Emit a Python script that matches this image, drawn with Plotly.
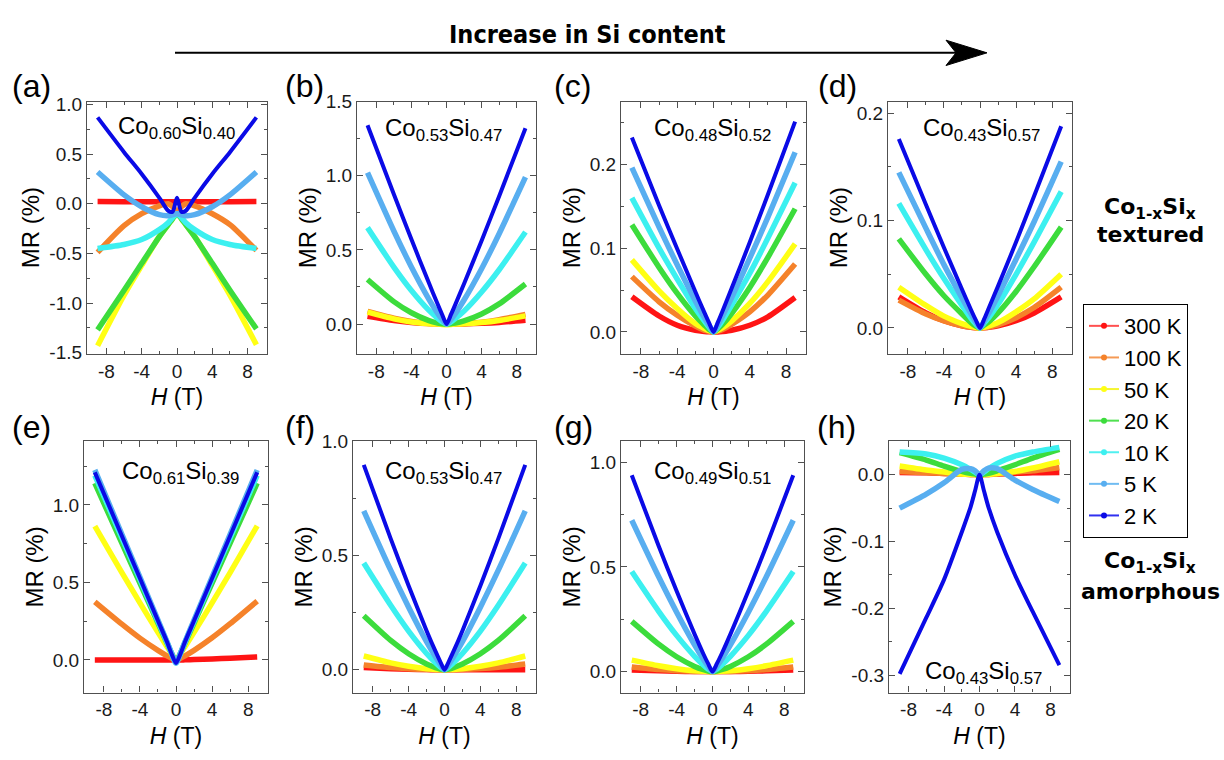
import plotly.graph_objects as go

# ---------------- data ----------------
H = [-9, -6, -4, -2, -1, -0.5, 0, 0.5, 1, 2, 4, 6, 9]
temps = ["300 K", "100 K", "50 K", "20 K", "10 K", "5 K", "2 K"]
colors = ["#FF1414", "#F5822A", "#FFFF14", "#3CDC3C", "#3CF0F0", "#58AEF0", "#0A0AE6"]
legend_colors = ["#FF5050", "#F59A55", "#F5F530", "#50E050", "#50F0F0", "#70BCF2", "#3030F0"]

panel_letters = ["(a)", "(b)", "(c)", "(d)", "(e)", "(f)", "(g)", "(h)"]
compositions = [
    "Co<sub>0.60</sub>Si<sub>0.40</sub>", "Co<sub>0.53</sub>Si<sub>0.47</sub>",
    "Co<sub>0.48</sub>Si<sub>0.52</sub>", "Co<sub>0.43</sub>Si<sub>0.57</sub>",
    "Co<sub>0.61</sub>Si<sub>0.39</sub>", "Co<sub>0.53</sub>Si<sub>0.47</sub>",
    "Co<sub>0.49</sub>Si<sub>0.51</sub>", "Co<sub>0.43</sub>Si<sub>0.57</sub>",
]

MR_a = [
    [0.022, 0.021, 0.02, 0.02, 0.02, 0.02, 0.02, 0.02, 0.02, 0.02, 0.02, 0.021, 0.022],
    [-0.49, -0.22, -0.10, -0.02, 0.0, -0.03, -0.08, -0.03, 0.0, -0.02, -0.10, -0.21, -0.47],
    [-1.43, -0.92, -0.62, -0.33, -0.21, -0.15, -0.10, -0.15, -0.21, -0.33, -0.62, -0.92, -1.42],
    [-1.27, -0.87, -0.60, -0.33, -0.21, -0.15, -0.10, -0.15, -0.21, -0.33, -0.60, -0.87, -1.26],
    [-0.45, -0.41, -0.36, -0.26, -0.19, -0.14, -0.10, -0.14, -0.19, -0.26, -0.36, -0.41, -0.45],
    [0.32, 0.09, -0.03, -0.11, -0.12, -0.11, -0.10, -0.11, -0.12, -0.11, -0.03, 0.09, 0.32],
    [0.87, 0.52, 0.30, 0.06, -0.07, -0.08, 0.06, -0.08, -0.07, 0.06, 0.30, 0.52, 0.87],
]
MR_b = [
    [0.053, 0.024, 0.011, 0.003, 0.001, 0.0, 0.0, 0.0, 0.0, 0.001, 0.005, 0.011, 0.025],
    [0.085, 0.040, 0.018, 0.004, 0.001, 0.0, 0.0, 0.0, 0.001, 0.003, 0.013, 0.030, 0.065],
    [0.080, 0.035, 0.014, 0.002, 0.0, -0.003, -0.005, -0.003, 0.0, 0.002, 0.010, 0.024, 0.055],
    [0.300, 0.151, 0.076, 0.023, 0.007, 0.002, 0.0, 0.002, 0.006, 0.021, 0.068, 0.136, 0.270],
    [0.650, 0.384, 0.226, 0.092, 0.038, 0.015, 0.0, 0.014, 0.036, 0.087, 0.216, 0.366, 0.620],
    [1.020, 0.627, 0.385, 0.167, 0.072, 0.032, 0.0, 0.031, 0.070, 0.162, 0.373, 0.609, 0.990],
    [1.340, 0.875, 0.571, 0.276, 0.133, 0.064, 0.0, 0.063, 0.131, 0.272, 0.562, 0.862, 1.320],
]
MR_c = [
    [0.042, 0.019, 0.008, 0.002, 0.0005, 0.0001, 0.0, 0.0, 0.0005, 0.002, 0.008, 0.018, 0.041],
    [0.066, 0.036, 0.020, 0.007, 0.002, 0.001, 0.0, 0.001, 0.003, 0.009, 0.024, 0.044, 0.081],
    [0.086, 0.049, 0.028, 0.010, 0.004, 0.0015, 0.0, 0.002, 0.005, 0.013, 0.034, 0.060, 0.105],
    [0.128, 0.077, 0.046, 0.019, 0.008, 0.003, 0.0, 0.004, 0.009, 0.022, 0.053, 0.089, 0.147],
    [0.160, 0.100, 0.063, 0.028, 0.013, 0.006, 0.0, 0.006, 0.014, 0.032, 0.070, 0.112, 0.178],
    [0.196, 0.125, 0.080, 0.037, 0.017, 0.008, 0.0, 0.009, 0.019, 0.041, 0.088, 0.137, 0.2145],
    [0.232, 0.151, 0.099, 0.048, 0.023, 0.011, 0.0, 0.012, 0.025, 0.052, 0.107, 0.164, 0.251],
]
MR_d = [
    [0.029, 0.014, 0.0067, 0.0019, 0.0006, 0.0002, 0.0, 0.0002, 0.0006, 0.0019, 0.0067, 0.014, 0.029],
    [0.026, 0.013, 0.0066, 0.002, 0.0006, 0.0002, 0.0, 0.0003, 0.0009, 0.0029, 0.0096, 0.019, 0.038],
    [0.038, 0.021, 0.011, 0.004, 0.0014, 0.0005, 0.0, 0.0007, 0.0019, 0.005, 0.015, 0.027, 0.050],
    [0.083, 0.050, 0.030, 0.013, 0.005, 0.002, 0.0, 0.003, 0.006, 0.014, 0.034, 0.057, 0.094],
    [0.116, 0.073, 0.046, 0.021, 0.009, 0.004, 0.0, 0.005, 0.010, 0.022, 0.050, 0.080, 0.127],
    [0.145, 0.093, 0.059, 0.028, 0.013, 0.006, 0.0, 0.007, 0.014, 0.030, 0.064, 0.099, 0.155],
    [0.176, 0.115, 0.075, 0.036, 0.017, 0.008, 0.0, 0.009, 0.019, 0.039, 0.080, 0.123, 0.188],
]
MR_e = [
    [0.0, 0.0, 0.0, 0.0, 0.0, 0.0, 0.0, 0.0, 0.001, 0.003, 0.007, 0.012, 0.020],
    [0.375, 0.231, 0.141, 0.062, 0.027, 0.012, 0.0, 0.012, 0.027, 0.062, 0.143, 0.234, 0.380],
    [0.864, 0.564, 0.368, 0.178, 0.086, 0.041, 0.0, 0.041, 0.086, 0.178, 0.368, 0.564, 0.865],
    [1.140, 0.753, 0.496, 0.238, 0.109, 0.044, -0.01, 0.044, 0.109, 0.238, 0.496, 0.753, 1.140],
    [1.190, 0.787, 0.520, 0.249, 0.115, 0.045, -0.02, 0.045, 0.115, 0.249, 0.520, 0.787, 1.190],
    [1.226, 0.811, 0.534, 0.257, 0.118, 0.045, -0.02, 0.045, 0.118, 0.257, 0.534, 0.811, 1.225],
    [1.210, 0.800, 0.527, 0.253, 0.117, 0.040, -0.02, 0.040, 0.117, 0.253, 0.527, 0.800, 1.210],
]
MR_f = [
    [0.010, 0.0044, 0.002, 0.0005, 0.0, 0.0, 0.0, 0.0, 0.0, 0.0, 0.0, 0.0, 0.0],
    [0.021, 0.0093, 0.0042, 0.001, 0.0003, 0.0, 0.0, 0.0, 0.0003, 0.0012, 0.005, 0.011, 0.025],
    [0.060, 0.030, 0.015, 0.0046, 0.0014, 0.0004, 0.0, 0.0004, 0.0014, 0.0046, 0.015, 0.030, 0.060],
    [0.236, 0.128, 0.070, 0.025, 0.009, 0.003, 0.0, 0.003, 0.009, 0.025, 0.070, 0.128, 0.236],
    [0.467, 0.282, 0.169, 0.071, 0.030, 0.013, 0.0, 0.013, 0.030, 0.071, 0.169, 0.282, 0.467],
    [0.696, 0.436, 0.274, 0.123, 0.056, 0.025, 0.0, 0.025, 0.056, 0.123, 0.274, 0.436, 0.696],
    [0.897, 0.574, 0.368, 0.171, 0.080, 0.038, 0.0, 0.038, 0.080, 0.171, 0.368, 0.574, 0.897],
]
MR_g = [
    [0.008, 0.0036, 0.0016, 0.0004, 0.0001, 0.0, 0.0, 0.0, 0.0001, 0.0004, 0.0016, 0.0036, 0.008],
    [0.022, 0.0098, 0.0044, 0.0011, 0.0003, 0.0, 0.0, 0.0, 0.0003, 0.0011, 0.0044, 0.0098, 0.022],
    [0.055, 0.028, 0.014, 0.0042, 0.0013, 0.0004, 0.0, 0.0004, 0.0013, 0.0042, 0.014, 0.028, 0.055],
    [0.240, 0.131, 0.071, 0.025, 0.009, 0.003, 0.0, 0.003, 0.009, 0.025, 0.071, 0.131, 0.240],
    [0.478, 0.288, 0.173, 0.073, 0.031, 0.013, 0.0, 0.013, 0.031, 0.073, 0.173, 0.288, 0.478],
    [0.723, 0.453, 0.284, 0.128, 0.058, 0.026, 0.0, 0.026, 0.058, 0.128, 0.284, 0.453, 0.723],
    [0.938, 0.600, 0.385, 0.179, 0.083, 0.039, 0.0, 0.039, 0.083, 0.179, 0.385, 0.600, 0.938],
]
MR_h = [
    [0.0035, 0.003, 0.002, 0.001, 0.0005, 0.0002, 0.0, 0.0002, 0.0005, 0.001, 0.002, 0.003, 0.0035],
    [0.005, 0.003, 0.002, 0.001, 0.0005, 0.0002, 0.0, 0.0002, 0.0005, 0.001, 0.004, 0.006, 0.011],
    [0.013, 0.007, 0.004, 0.001, 0.0005, 0.0002, 0.0, 0.0002, 0.0005, 0.002, 0.005, 0.010, 0.0195],
    [0.033, 0.022, 0.013, 0.005, 0.002, 0.001, 0.0, 0.001, 0.002, 0.006, 0.015, 0.025, 0.038],
    [0.034, 0.031, 0.025, 0.015, 0.008, 0.004, 0.0, 0.004, 0.009, 0.017, 0.028, 0.034, 0.041],
    [-0.050, -0.029, -0.012, 0.008, 0.009, 0.006, 0.0, 0.006, 0.010, 0.009, -0.008, -0.022, -0.040],
    [-0.298, -0.214, -0.157, -0.086, -0.048, -0.024, 0.0, -0.024, -0.048, -0.086, -0.150, -0.205, -0.285],
]
panels = [MR_a, MR_b, MR_c, MR_d, MR_e, MR_f, MR_g, MR_h]

x_tickvals = [-8, -4, 0, 4, 8]
x_ticktext = ["-8", "-4", "0", "4", "8"]
x_minor = [-6, -2, 2, 6]

y_ranges = [[-1.51, 1.03], [-0.2, 1.5], [-0.026, 0.275], [-0.024, 0.211],
            [-0.21, 1.41], [-0.1, 1.0], [-0.1, 1.1], [-0.326, 0.05]]
y_tickvals = [[-1.5, -1.0, -0.5, 0.0, 0.5, 1.0], [0.0, 0.5, 1.0, 1.5], [0.0, 0.1, 0.2], [0.0, 0.1, 0.2],
              [0.0, 0.5, 1.0], [0.0, 0.5, 1.0], [0.0, 0.5, 1.0], [-0.3, -0.2, -0.1, 0.0]]
y_ticktext = [["-1.5", "-1.0", "-0.5", "0.0", "0.5", "1.0"], ["0.0", "0.5", "1.0", "1.5"],
              ["0.0", "0.1", "0.2"], ["0.0", "0.1", "0.2"], ["0.0", "0.5", "1.0"],
              ["0.0", "0.5", "1.0"], ["0.0", "0.5", "1.0"], ["-0.3", "-0.2", "-0.1", "0.0"]]
y_minor = [[-1.25, -0.75, -0.25, 0.25, 0.75], [0.25, 0.75, 1.25], [0.05, 0.15, 0.25], [0.05, 0.15],
           [0.25, 0.75, 1.25], [0.25, 0.75], [0.25, 0.75], [-0.25, -0.15, -0.05]]

# ---------------- layout geometry (pixels) ----------------
W, Hpx = 1224, 760
def fx(p):
    return p / W
def fy(p):
    return 1 - p / Hpx

boxes = [(87, 267, 94, 353), (357, 536, 94, 353), (621, 806, 94, 353), (888, 1072, 94, 353),
         (84, 268, 443, 701), (353, 536, 443, 701), (621, 804, 443, 701), (889, 1070, 443, 701)]
letter_pos = [(10, 78), (283, 78), (552, 78), (816, 78), (10, 428), (283, 428), (552, 428), (815, 428)]
comp_pos = [(176, 121), (443, 123), (712, 123), (981, 123), (180, 475), (443, 475), (712, 475), (983, 680)]

FONT = "Liberation Sans, Arial, sans-serif"
AX_COLOR = "#505050"

fig = go.Figure()
layout = dict(width=W, height=Hpx, margin=dict(l=0, r=0, t=0, b=0), autosize=False,
              paper_bgcolor="white", plot_bgcolor="white",
              font=dict(family=FONT, size=19, color="black"))
annotations = []

for i, data in enumerate(panels):
    k = "" if i == 0 else str(i + 1)
    xa, ya = "x" + k, "y" + k
    for j, series in enumerate(data):
        fig.add_trace(go.Scatter(
            x=H, y=series, mode="lines", xaxis=xa, yaxis=ya, showlegend=False,
            line=dict(color=colors[j], width=4 if j == 6 else 5.5, shape="spline", smoothing=0.7),
            hoverinfo="skip"))
    x0, x1, y0, y1 = boxes[i]
    common = dict(showline=True, linecolor=AX_COLOR, linewidth=1.2, mirror="ticks",
                  ticks="inside", ticklen=6, tickwidth=1.2, tickcolor=AX_COLOR,
                  showgrid=False, zeroline=False,
                  tickfont=dict(size=19, family=FONT, color="#1a1a1a"))
    layout["xaxis" + k] = dict(
        domain=[fx(x0), fx(x1)], anchor=ya, range=[-10.2, 10.2],
        tickmode="array", tickvals=x_tickvals, ticktext=x_ticktext,
        minor=dict(tickmode="array", tickvals=x_minor, ticks="inside", ticklen=3,
                   tickcolor=AX_COLOR, tickwidth=1.2),
        title=dict(text="<i>H</i> (T)", font=dict(size=23, family=FONT), standoff=8),
        **common)
    layout["yaxis" + k] = dict(
        domain=[fy(y1), fy(y0)], anchor=xa, range=y_ranges[i],
        tickmode="array", tickvals=y_tickvals[i], ticktext=y_ticktext[i],
        minor=dict(tickmode="array", tickvals=y_minor[i], ticks="inside", ticklen=3,
                   tickcolor=AX_COLOR, tickwidth=1.2),
        title=dict(text="MR (%)", font=dict(size=24, family=FONT), standoff=2),
        **common)
    lx, ly = letter_pos[i]
    annotations.append(dict(text=panel_letters[i], x=fx(lx), y=fy(ly), xref="paper", yref="paper",
                            xanchor="left", yanchor="middle", showarrow=False,
                            font=dict(size=32, family=FONT, color="black")))
    cx, cy = comp_pos[i]
    annotations.append(dict(text=compositions[i], x=fx(cx), y=fy(cy), xref="paper", yref="paper",
                            xanchor="center", yanchor="middle", showarrow=False,
                            font=dict(size=24, family=FONT, color="black")))

# legend-only traces
for j, t in enumerate(temps):
    fig.add_trace(go.Scatter(
        x=[None], y=[None], mode="lines+markers", name=t, xaxis="x", yaxis="y",
        line=dict(color=legend_colors[j], width=2), marker=dict(color=colors[j], size=6)))

BOLD = "DejaVu Sans, Verdana, sans-serif"
side_texts = [("<b>Co<sub>1-x</sub>Si<sub>x</sub></b>", 1150, 204), ("<b>textured</b>", 1150, 231),
              ("<b>Co<sub>1-x</sub>Si<sub>x</sub></b>", 1150, 567), ("<b>amorphous</b>", 1150, 597)]
for txt, px, py in side_texts:
    annotations.append(dict(text=txt, x=fx(px), y=fy(py), xref="paper", yref="paper",
                            xanchor="center", yanchor="middle", showarrow=False,
                            font=dict(size=22, family=BOLD, color="black")))

annotations.append(dict(text="<b>Increase in Si content</b>", x=fx(587), y=fy(25), xref="paper",
                        yref="paper", xanchor="center", yanchor="middle", showarrow=False,
                        font=dict(size=25, family="DejaVu Sans Condensed, DejaVu Sans, sans-serif",
                                  color="black")))

shapes = [
    dict(type="line", xref="paper", yref="paper", x0=fx(175), x1=fx(960), y0=fy(44), y1=fy(44),
         line=dict(color="black", width=2)),
    dict(type="path", xref="paper", yref="paper",
         path="M %f,%f L %f,%f L %f,%f L %f,%f Z" % (fx(946), fy(31), fx(987), fy(44),
                                                     fx(946), fy(57), fx(956), fy(44)),
         fillcolor="black", line=dict(color="black", width=1)),
]

layout["annotations"] = annotations
layout["shapes"] = shapes
layout["legend"] = dict(x=fx(1083), y=fy(302), xanchor="left", yanchor="top",
                        bordercolor="black", borderwidth=1, bgcolor="white",
                        font=dict(size=22, family=FONT, color="black"),
                        tracegroupgap=0, itemwidth=30)
fig.update_layout(**layout)
fig.write_html("out.html")
